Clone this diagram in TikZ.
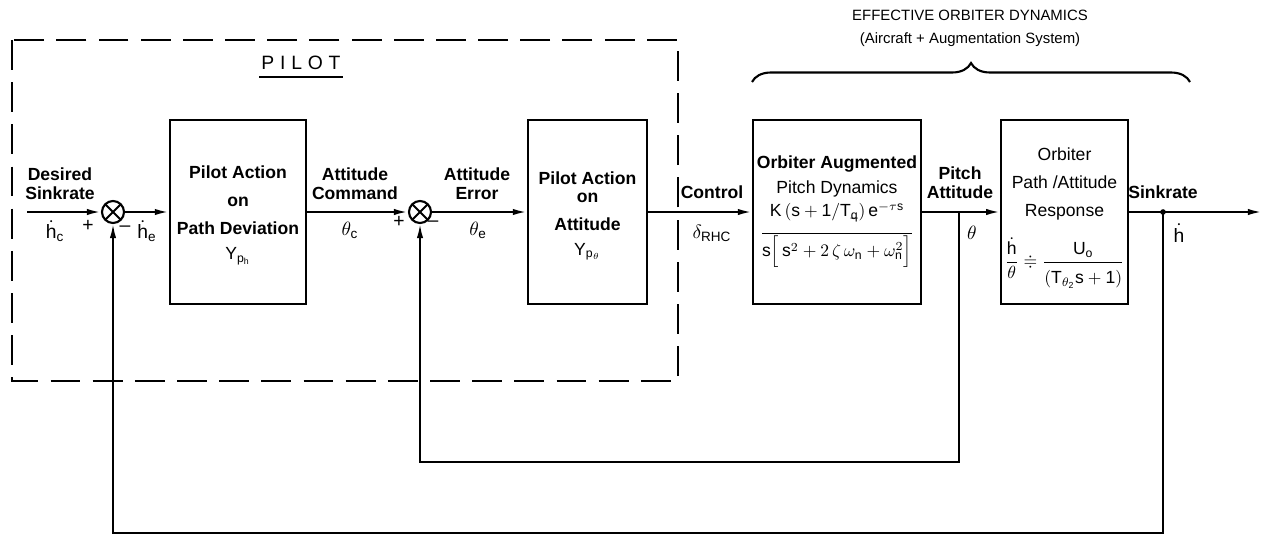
\documentclass[tikz,border=0pt]{standalone}
\usepackage{amsmath,amssymb}
\usepackage{fontspec}
\setmainfont{Liberation Sans}
\usetikzlibrary{arrows.meta, decorations.pathreplacing}

\begin{document}
\begin{tikzpicture}[
    x=0.02cm, y=-0.02cm,
    font=\fontsize{10}{11}\selectfont,
    >={Latex[length=8pt, width=3.6pt]},
    block/.style={
        rectangle, draw=black, line width=1.3pt, align=center,
        minimum height=3.68cm, inner sep=2pt
    },
    sumj/.style={
        circle, draw=black, line width=1.2pt, minimum size=0.44cm,
        inner sep=0pt,
        path picture={\draw[line width=1.1pt]
            (path picture bounding box.north west)
            -- (path picture bounding box.south east)
            (path picture bounding box.north east)
            -- (path picture bounding box.south west);}
    },
    lbl/.style={font=\fontsize{10}{11}\selectfont\bfseries, align=center,
        inner sep=1pt},
    sig/.style={font=\fontsize{11}{12}\selectfont, inner sep=1pt},
    arr/.style={->, line width=1.2pt},
    fb/.style={->, line width=1pt},
    line/.style={line width=1.2pt},
    pilotbox/.style={line width=1.6pt, dash pattern=on 17pt off 7pt},
    brace/.style={decorate, decoration={brace, amplitude=0.38cm},
        line width=1.2pt}
]
\useasboundingbox (0,0) rectangle (1270,541);

% Pilot boundary
\draw[pilotbox] (12,40) rectangle (678,381);
\node[font=\fontsize{11}{13}\selectfont\addfontfeature{LetterSpace=30},
    inner sep=1pt] (pilot) at (301,63) {PILOT};
\draw[line] ([yshift=-3pt]pilot.south west) -- ([yshift=-3pt]pilot.south east);

% Effective orbiter dynamics heading
\node[font=\fontsize{8.5}{13}\selectfont, align=center] (effdyn) at (970,28)
    {EFFECTIVE ORBITER DYNAMICS\\(Aircraft + Augmentation System)};
\coordinate (braceL) at (752,82);
\coordinate (braceR) at (1190,82);
\draw[brace] (braceL) -- (braceR);

% Summing junctions
\node[sumj] (sumh) at (113,212) {};
\node[sumj] (sumth) at (420,212) {};

% Blocks
\node[block, minimum width=2.72cm] (pathdev) at (238,212)
    {\rule{0pt}{11pt}\textbf{Pilot Action}\\[5pt]\textbf{on}\\[5pt]
     \textbf{Path Deviation}\\[3pt]
     $\mathrm{Y}_{\mathrm{p}_\mathrm{h}}$};
\node[block, minimum width=2.38cm] (attact) at (587.5,212)
    {\rule{0pt}{12pt}\textbf{Pilot Action}\\[-1pt]\textbf{on}\\[5pt]
     \textbf{Attitude}\\[3pt]
     $\mathrm{Y}_{\mathrm{p}_\theta}$};
\node[block, minimum width=3.36cm] (pitchdyn) at (837,212)
    {\textbf{Orbiter Augmented}\\[3pt]Pitch Dynamics\\[2pt]
     $\dfrac{\rule[-8pt]{0pt}{0pt}\mathrm{K\,(s+1/T_{\dot q})\,e^{-\tau s}}}
            {\rule{0pt}{12pt}\mathrm{s}\Big[\,\mathrm{s}^2+2\,\zeta\,\omega_\mathrm{n}
             +\omega_\mathrm{n}^2\Big]}$};
\node[block, minimum width=2.42cm] (pathresp) at (1064.5,212)
    {\rule{0pt}{14pt}Orbiter\\[5pt]Path /Attitude\\[5pt]Response\\[9pt]
     $\dfrac{\dot{\mathrm{h}}}{\theta}\doteqdot
      \dfrac{\mathrm{U_o}}{\rule{0pt}{11pt}\mathrm{(T_{\theta_2}s+1)}}$};

% Free ends and branch points
\coordinate (hcin) at (27,212);
\coordinate (hout) at (1262,212);
\coordinate (thtap) at (959,212);
\coordinate (hdtap) at (1163,212);

% Forward path
\draw[arr] (hcin) -- (sumh.west);
\draw[arr] (sumh.east) -- (pathdev.west);
\draw[arr] (pathdev.east) -- (sumth.west);
\draw[arr] (sumth.east) -- (attact.west);
\draw[arr] (attact.east) -- (pitchdyn.west);
\draw[arr] (pitchdyn.east) -- (pathresp.west);
\draw[arr] (pathresp.east) -- (hout);
\fill (hdtap) circle (1.6pt);

% Feedback loops
\draw[fb] (thtap) -- ++(0,250) -| (sumth.south);
\draw[fb] (hdtap) -- ++(0,321) -| (sumh.south);

% Signal labels
\node[lbl] (desired) at (60,184) {Desired\\Sinkrate};
\node[sig] (hc) at (55,231) {$\dot{\mathrm{h}}_\mathrm{c}$};
\node[sig] (plush) at (88,226) {+};
\node[sig] (minush) at (125,229) {--};
\node[sig] (he) at (147,231) {$\dot{\mathrm{h}}_\mathrm{e}$};
\node[lbl] (attcmd) at (355,184) {Attitude\\Command};
\node[sig] (thc) at (350,230) {$\theta_\mathrm{c}$};
\node[sig] (plusth) at (399,222) {+};
\node[sig] (minusth) at (433,224) {--};
\node[lbl] (atterr) at (477,184) {Attitude\\Error};
\node[sig] (the) at (478,230) {$\theta_\mathrm{e}$};
\node[lbl] (control) at (712,192) {Control};
\node[sig] (drhc) at (712,233) {$\delta_{\mathrm{RHC}}$};
\node[lbl] (pitchatt) at (960,183) {Pitch\\Attitude};
\node[sig] (theta) at (972,233) {$\theta$};
\node[lbl] (sinkrate) at (1163,192) {Sinkrate};
\node[sig] (hdot) at (1179,233) {$\dot{\mathrm{h}}$};

\end{tikzpicture}
\end{document}
